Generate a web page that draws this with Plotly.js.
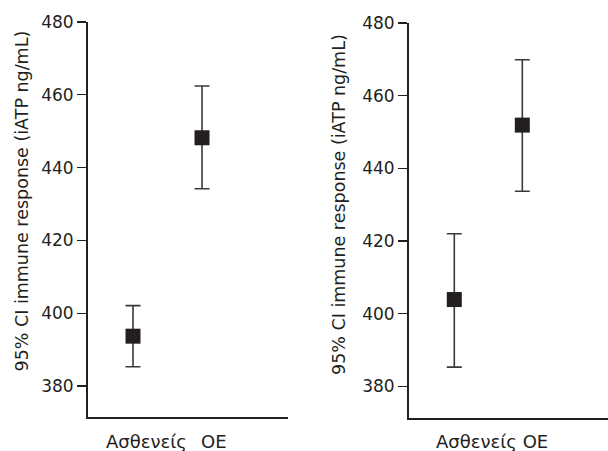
<!DOCTYPE html>
<html>
<head>
<meta charset="utf-8">
<script src="https://cdn.plot.ly/plotly-3.0.1.min.js"></script>
<style>html,body{margin:0;padding:0;background:#fff;}#chart{width:608px;height:451px;}</style>
</head>
<body>
<div id="chart"></div>
<script>
// Data
const categories = ["Ασθενείς", "OE"];
const leftMeans = [393.7, 448.2];
const leftUpper = [402.1, 462.4];
const leftLower = [385.3, 434.2];
const rightMeans = [403.9, 451.9];
const rightUpper = [422.0, 469.9];
const rightLower = [385.3, 433.7];
const yTickVals = [380, 400, 420, 440, 460, 480];
const yTitle = "95% CI immune response (iATP ng/mL)";

const ink = "#231f20";
const fontFam = "'DejaVu Sans', sans-serif";
const idx = categories.map((c, i) => i);

function trace(means, upper, lower, xa, ya) {
  return {
    type: "scatter", mode: "markers",
    x: idx, y: means, xaxis: xa, yaxis: ya,
    marker: {symbol: "square", size: 15, color: ink},
    error_y: {
      type: "data", symmetric: false,
      array: upper.map((u, i) => u - means[i]),
      arrayminus: lower.map((l, i) => means[i] - l),
      color: "#3a3a3a", thickness: 1.6, width: 7.5
    },
    hoverinfo: "skip", showlegend: false
  };
}

const yBase = {
  range: [371.5, 480], tickvals: yTickVals, ticks: "outside", ticklen: 9, tickwidth: 1.3,
  tickcolor: ink, showline: true, linewidth: 2, linecolor: ink, showgrid: false, zeroline: false,
  tickfont: {family: fontFam, size: 17, color: ink}
};
const xBase = {
  showline: true, linewidth: 2, linecolor: ink, showgrid: false, zeroline: false,
  showticklabels: false, ticks: ""
};
const titleFont = {family: fontFam, size: 17.5, color: ink};
const labelFont = {family: fontFam, size: 18, color: ink};

const layout = {
  width: 608, height: 451,
  margin: {l: 0, r: 0, t: 0, b: 0},
  paper_bgcolor: "#fff", plot_bgcolor: "#fff",
  xaxis: Object.assign({}, xBase, {domain: [88/608, 288/608], range: [-0.652, 2.246], anchor: "y"}),
  yaxis: Object.assign({}, yBase, {domain: [34/451, 429/451], anchor: "x"}),
  xaxis2: Object.assign({}, xBase, {domain: [409/608, 1], range: [-0.666, 2.26], anchor: "y2"}),
  yaxis2: Object.assign({}, yBase, {domain: [33/451, 428/451], anchor: "x2", range: [371.3, 480]}),
  annotations: [
    {xref: "paper", yref: "paper", x: 21/608, y: (451-201.5)/451, text: yTitle, textangle: -90,
     showarrow: false, font: titleFont, xanchor: "center", yanchor: "middle"},
    {xref: "paper", yref: "paper", x: 339/608, y: (451-205)/451, text: yTitle, textangle: -90,
     showarrow: false, font: titleFont, xanchor: "center", yanchor: "middle"},
    {xref: "x", yref: "paper", x: idx[0] + 0.19, y: 10/451, text: categories[0], showarrow: false,
     font: labelFont, yanchor: "middle"},
    {xref: "x", yref: "paper", x: idx[1] + 0.17, y: 10/451, text: categories[1], showarrow: false,
     font: labelFont, yanchor: "middle"},
    {xref: "x2", yref: "paper", x: idx[0] + 0.56, y: 10/451, text: categories.join(" "), showarrow: false,
     font: labelFont, yanchor: "middle"}
  ]
};

Plotly.newPlot("chart", [
  trace(leftMeans, leftUpper, leftLower, "x", "y"),
  trace(rightMeans, rightUpper, rightLower, "x2", "y2")
], layout, {displayModeBar: false, staticPlot: true});
</script>
</body>
</html>
